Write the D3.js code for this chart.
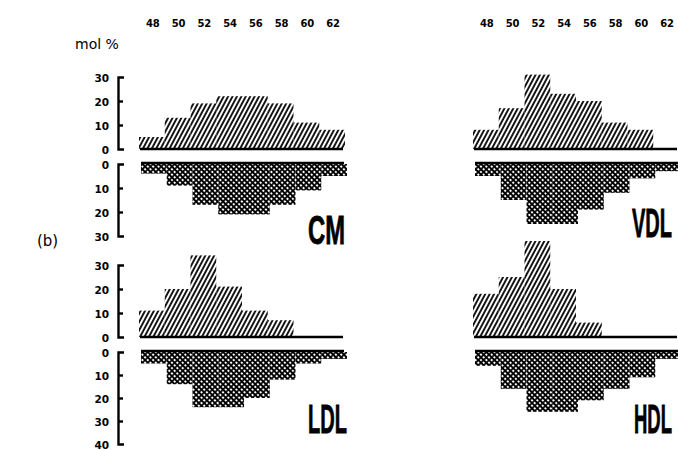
<!DOCTYPE html>
<html>
<head>
<meta charset="utf-8">
<script src="https://cdn.jsdelivr.net/npm/d3@7"></script>
<style>
  body { margin: 0; background: #fff; }
  svg text { fill: #000; }
  .tick-num { font-family: "DejaVu Sans", sans-serif; font-weight: bold; font-size: 10px; }
  .axis path, .axis line { stroke: #000; stroke-width: 2.4; }
  .axis text { font-family: "DejaVu Sans", sans-serif; font-weight: bold; font-size: 10.5px; }
  .base-line { stroke: #000; stroke-width: 2.6; }
  .big-label { font-family: "Liberation Sans Narrow", "Liberation Sans", sans-serif; font-weight: bold; font-size: 41px; stroke: #000; stroke-width: 0.8; }
  .plain { font-family: "DejaVu Sans", sans-serif; font-size: 13px; }
</style>
</head>
<body>
<div class="chart"></div>
<script>
// bins (fatty acid carbon number) and tick labels
var bins = [48, 50, 52, 54, 56, 58, 60, 62];
var tick_labels = ["48", "50", "52", "54", "56", "58", "60", "62"];

// mol % per bin, hatched (upper) and cross-hatched (lower)
var cm_up    = [5, 13, 19, 22, 22, 19, 11, 8];
var cm_down  = [4, 9, 17, 21, 21, 17, 11, 5];
var vdl_up   = [8, 17, 31, 23, 20, 11, 8, 0];
var vdl_down = [5, 15, 25, 25, 19, 12, 6, 3];
var ldl_up   = [11, 20, 34, 21, 11, 7, 0, 0];
var ldl_down = [5, 14, 24, 24, 20, 12, 5, 3];
var hdl_up   = [18, 25, 40, 20, 6, 0, 0, 0];
var hdl_down = [6, 16, 26, 26, 21, 16, 11, 3];

var up_ticks = [0, 10, 20, 30],
  down_ticks_1 = [0, 10, 20, 30],
  down_ticks_2 = [0, 10, 20, 30, 40];

var width = 678, height = 450;

var svg = d3.select(".chart").append("svg")
    .attr("width", width)
    .attr("height", height);

var defs = svg.append("defs");

// diagonal hatch
var hatch = defs.append("pattern")
    .attr("id", "hatch")
    .attr("patternUnits", "userSpaceOnUse")
    .attr("width", 3.9)
    .attr("height", 10)
    .attr("patternTransform", "rotate(28)");
hatch.append("line")
    .attr("x1", 1).attr("x2", 1)
    .attr("y1", 0).attr("y2", 10)
    .attr("stroke", "#000")
    .attr("stroke-width", 1.8);

// cross hatch
var cs = 3.8;
var cross = defs.append("pattern")
    .attr("id", "cross")
    .attr("patternUnits", "userSpaceOnUse")
    .attr("width", cs)
    .attr("height", cs)
    .attr("patternTransform", "rotate(45)");
cross.append("rect")
    .attr("width", cs).attr("height", cs)
    .attr("fill", "#fff");
cross.append("path")
    .attr("d", "M0,0H" + cs + "M0,0V" + cs + "M0," + cs + "H" + cs + "M" + cs + ",0V" + cs)
    .attr("stroke", "#000")
    .attr("stroke-width", 1.7);

// x scales, one per column
var x_left = d3.scaleLinear().domain([47, 63]).range([139, 345]);
var x_right = d3.scaleLinear().domain([47, 63]).range([473, 679]);

// y scales, one per row/half
var y_up_1 = d3.scaleLinear().domain([0, 30]).range([149, 77]);
var y_down_1 = d3.scaleLinear().domain([0, 30]).range([164, 236]);
var y_up_2 = d3.scaleLinear().domain([0, 30]).range([337, 265]);
var y_down_2 = d3.scaleLinear().domain([0, 40]).range([352, 444]);

drawTopLabels(x_left);
drawTopLabels(x_right);

drawAxis(y_up_1, up_ticks);
drawAxis(y_down_1, down_ticks_1);
drawAxis(y_up_2, up_ticks);
drawAxis(y_down_2, down_ticks_2);

drawPanel(x_left, y_up_1, y_down_1, cm_up, cm_down, 149, 163);
drawPanel(x_right, y_up_1, y_down_1, vdl_up, vdl_down, 149, 163);
drawPanel(x_left, y_up_2, y_down_2, ldl_up, ldl_down, 337, 351);
drawPanel(x_right, y_up_2, y_down_2, hdl_up, hdl_down, 337, 351);

bigLabel("CM", 308, 244, 37);
bigLabel("VDL", 632, 237, 40);
bigLabel("LDL", 308, 433, 39);
bigLabel("HDL", 634, 433, 38);

svg.append("text")
    .attr("class", "plain")
    .attr("x", 75)
    .attr("y", 49)
    .style("font-size", "14px")
    .text("mol %");

svg.append("text")
    .attr("class", "plain")
    .attr("x", 37)
    .attr("y", 246)
    .style("font-size", "15px")
    .text("(b)");

function drawTopLabels(x){
  svg.selectAll(null)
      .data(bins)
    .enter().append("text")
      .attr("class", "tick-num")
      .attr("x", function(d){ return x(d) + 1; })
      .attr("y", 27)
      .attr("text-anchor", "middle")
      .text(function(d, i){ return tick_labels[i]; });
}

function drawAxis(y, ticks){
  var g = svg.append("g")
      .attr("class", "axis")
      .attr("transform", "translate(118,0)")
      .call(d3.axisLeft(y)
        .tickValues(ticks)
        .tickSizeInner(-5)
        .tickSizeOuter(-6)
        .tickPadding(9));
  g.selectAll("text").attr("dy", "0.4em");
  // first and last tick are the bracket caps
  g.selectAll(".tick line").filter(function(d, i){ return i == 0 || i == ticks.length - 1; }).remove();
}

function drawPanel(x, y_up, y_down, up, down, up_base, down_base){

  svg.append("g").selectAll("rect")
      .data(bins)
    .enter().append("rect")
      .attr("x", function(d){ return x(d - 1); })
      .attr("width", function(d){ return x(d + 1) - x(d - 1); })
      .attr("y", function(d, i){ return y_up(up[i]); })
      .attr("height", function(d, i){ return y_up(0) - y_up(up[i]); })
      .attr("fill", "url(#hatch)");

  svg.append("g").selectAll("rect")
      .data(bins)
    .enter().append("rect")
      .attr("x", function(d){ return x(d - 1) + 2; })
      .attr("width", function(d){ return x(d + 1) - x(d - 1); })
      .attr("y", y_down(0))
      .attr("height", function(d, i){ return y_down(down[i]) - y_down(0); })
      .attr("fill", "url(#cross)");

  svg.append("line")
      .attr("class", "base-line")
      .attr("x1", x(47) + 1).attr("x2", x(63) - 2)
      .attr("y1", up_base).attr("y2", up_base);

  svg.append("line")
      .attr("class", "base-line")
      .attr("x1", x(47) + 2).attr("x2", x(63) - 1)
      .attr("y1", down_base).attr("y2", down_base);
}

// condensed heavy label, squeezed to width w with a scale transform
function bigLabel(txt, x, y, w){
  var t = svg.append("text")
      .attr("class", "big-label")
      .text(txt);
  var natural = t.node().getComputedTextLength();
  t.attr("transform", "translate(" + x + "," + y + ") scale(" + (w / natural) + ",1)");
}
</script>
</body>
</html>
